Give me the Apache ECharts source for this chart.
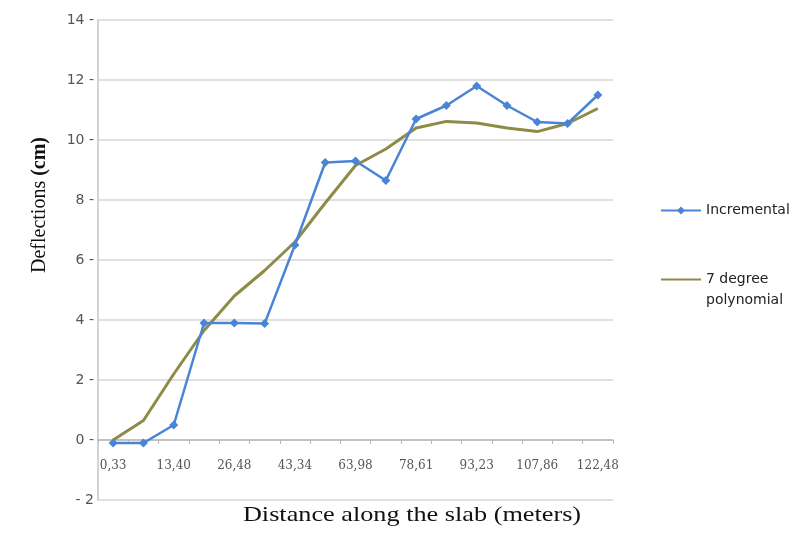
<!DOCTYPE html>
<html>
<head>
<meta charset="utf-8">
<script src="https://cdn.jsdelivr.net/npm/echarts@6/dist/echarts.min.js"></script>
<style>
  html, body {margin: 0; padding: 0; background: #fff;}
  #chart {width: 793px; height: 551px;}
</style>
</head>
<body>
<div id="chart"></div>
<script>
// distance along the slab (m); only every other station is labelled
var distances = ['0,33', '', '13,40', '', '26,48', '', '43,34', '', '63,98',
                 '', '78,61', '', '93,23', '', '107,86', '', '122,48'];
var incremental = [-0.1, -0.1, 0.5, 3.9, 3.9, 3.88, 6.5, 9.25, 9.3, 8.65,
                   10.7, 11.15, 11.8, 11.15, 10.6, 10.55, 11.5];
var polynomial = [0, 0.65, 2.2, 3.65, 4.8, 5.65, 6.6, 7.9, 9.15, 9.7,
                  10.4, 10.62, 10.57, 10.4, 10.28, 10.55, 11.05];
var yTicks = {min: -2, max: 14, step: 2};

var myChart = echarts.init(document.getElementById('chart'));
myChart.setOption({
    animation: false,
    grid: {left: 98, right: 180, top: 20, bottom: 51},
    legend: {
        orient: 'vertical',
        left: 655,
        top: 195,
        itemGap: 27,
        itemWidth: 40,
        itemHeight: 10,
        textStyle: {fontFamily: 'DejaVu Sans', fontSize: 14, color: '#222', lineHeight: 21},
        // blank first line so "7 degree" sits level with its line sample
        formatter: function (name) {
            return name.indexOf('\n') >= 0 ? ' \n' + name : name;
        },
        data: [
            {name: 'Incremental'},
            {name: '7 degree\npolynomial', icon: 'path://M0,4 L40,4 L40,6 L0,6 Z'}
        ]
    },
    graphic: [{
        type: 'text',
        x: 412,
        y: 515,
        scaleX: 1.25,
        style: {
            text: 'Distance along the slab (meters)',
            font: '21px "Liberation Serif"',
            fill: '#111',
            align: 'center',
            verticalAlign: 'middle'
        }
    }, {
        type: 'text',
        x: 40,
        y: 205,
        rotation: Math.PI / 2,
        style: {
            text: 'Deflections {b|(cm)}',
            font: '20px "Liberation Serif"',
            fill: '#111',
            align: 'center',
            verticalAlign: 'middle',
            rich: {b: {font: 'bold 20px "Liberation Serif"', fill: '#111'}}
        }
    }],
    xAxis: {
        type: 'category',
        data: distances,
        boundaryGap: true,
        axisLine: {onZero: true, lineStyle: {color: '#b8b8b8', width: 1.5}},
        axisTick: {show: true, interval: 0, length: 4, lineStyle: {color: '#b8b8b8'}},
        axisLabel: {
            interval: 0,
            margin: -40,
            fontFamily: 'DejaVu Serif',
            fontSize: 12,
            color: '#555'
        },
        splitLine: {show: false}
    },
    yAxis: {
        type: 'value',
        min: yTicks.min,
        max: yTicks.max,
        interval: yTicks.step,
        axisLine: {show: true, lineStyle: {color: '#c4c4c4', width: 1.5}},
        axisTick: {show: false},
        axisLabel: {
            margin: 4,
            fontFamily: 'DejaVu Sans',
            fontSize: 14,
            color: '#555',
            formatter: function (v) {
                return v < 0 ? '- ' + Math.abs(v) : v + ' -';
            }
        },
        splitLine: {lineStyle: {color: '#d6d6d6', width: 1.5}}
    },
    series: [{
        name: 'Incremental',
        type: 'line',
        data: incremental,
        symbol: 'diamond',
        symbolSize: 9,
        lineStyle: {width: 2.5, color: '#4a84d6'},
        itemStyle: {color: '#4a84d6'},
        z: 3
    }, {
        name: '7 degree\npolynomial',
        type: 'line',
        data: polynomial,
        showSymbol: false,
        symbol: 'none',
        lineStyle: {width: 3, color: '#8e8a48'},
        itemStyle: {color: '#8e8a48'},
        z: 2
    }]
});
</script>
</body>
</html>
